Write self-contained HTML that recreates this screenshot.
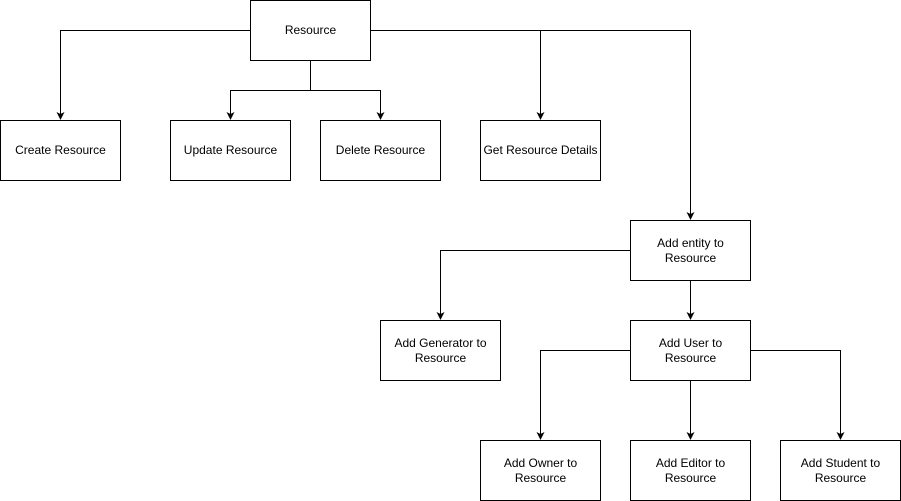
<!DOCTYPE html>
<html><head><meta charset="utf-8"><style>
html,body{margin:0;padding:0;background:#fff;}
svg{display:block;}
text{font-family:"Liberation Sans",Arial,sans-serif;font-size:12px;fill:#000;}
</style></head><body>
<svg width="901" height="501" viewBox="0 0 901 501" xmlns="http://www.w3.org/2000/svg">
<g fill="none" stroke="#000" stroke-width="1">
<path d="M250,30.5 H60.5 V119"/>
<path d="M310.5,60 V90.5 H230.5 V119"/>
<path d="M310.5,90.5 H380.5 V119"/>
<path d="M370,30.5 H540.5 V119"/>
<path d="M540.5,30.5 H690.5 V219"/>
<path d="M630,250.5 H440.5 V319"/>
<path d="M690.5,280 V319"/>
<path d="M630,350.5 H540.5 V439"/>
<path d="M690.5,380 V439"/>
<path d="M750,350.5 H840.5 V439"/>
</g>
<g fill="#000">
<path d="M56.5,112 L60.5,120 L64.5,112 L60.5,114 Z"/>
<path d="M226.5,112 L230.5,120 L234.5,112 L230.5,114 Z"/>
<path d="M376.5,112 L380.5,120 L384.5,112 L380.5,114 Z"/>
<path d="M536.5,112 L540.5,120 L544.5,112 L540.5,114 Z"/>
<path d="M686.5,212 L690.5,220 L694.5,212 L690.5,214 Z"/>
<path d="M436.5,312 L440.5,320 L444.5,312 L440.5,314 Z"/>
<path d="M686.5,312 L690.5,320 L694.5,312 L690.5,314 Z"/>
<path d="M536.5,432 L540.5,440 L544.5,432 L540.5,434 Z"/>
<path d="M686.5,432 L690.5,440 L694.5,432 L690.5,434 Z"/>
<path d="M836.5,432 L840.5,440 L844.5,432 L840.5,434 Z"/>
</g>
<g fill="#fff" stroke="#000" stroke-width="1">
<rect x="250.5" y="0.5" width="120" height="60"/>
<rect x="0.5" y="120.5" width="120" height="60"/>
<rect x="170.5" y="120.5" width="120" height="60"/>
<rect x="320.5" y="120.5" width="120" height="60"/>
<rect x="480.5" y="120.5" width="120" height="60"/>
<rect x="630.5" y="220.5" width="120" height="60"/>
<rect x="380.5" y="320.5" width="120" height="60"/>
<rect x="630.5" y="320.5" width="120" height="60"/>
<rect x="480.5" y="440.5" width="120" height="60"/>
<rect x="630.5" y="440.5" width="120" height="60"/>
<rect x="780.5" y="440.5" width="120" height="60"/>
</g>
<g text-anchor="middle">
<text x="310.5" y="34">Resource</text>
<text x="60.5" y="154">Create Resource</text>
<text x="230.5" y="154">Update Resource</text>
<text x="380.5" y="154">Delete Resource</text>
<text x="540.5" y="154">Get Resource Details</text>
<text x="690.5" y="247">Add entity to</text>
<text x="690.5" y="262">Resource</text>
<text x="440.5" y="347">Add Generator to</text>
<text x="440.5" y="362">Resource</text>
<text x="690.5" y="347">Add User to</text>
<text x="690.5" y="362">Resource</text>
<text x="540.5" y="467">Add Owner to</text>
<text x="540.5" y="482">Resource</text>
<text x="690.5" y="467">Add Editor to</text>
<text x="690.5" y="482">Resource</text>
<text x="840.5" y="467">Add Student to</text>
<text x="840.5" y="482">Resource</text>
</g>
</svg>
</body></html>
